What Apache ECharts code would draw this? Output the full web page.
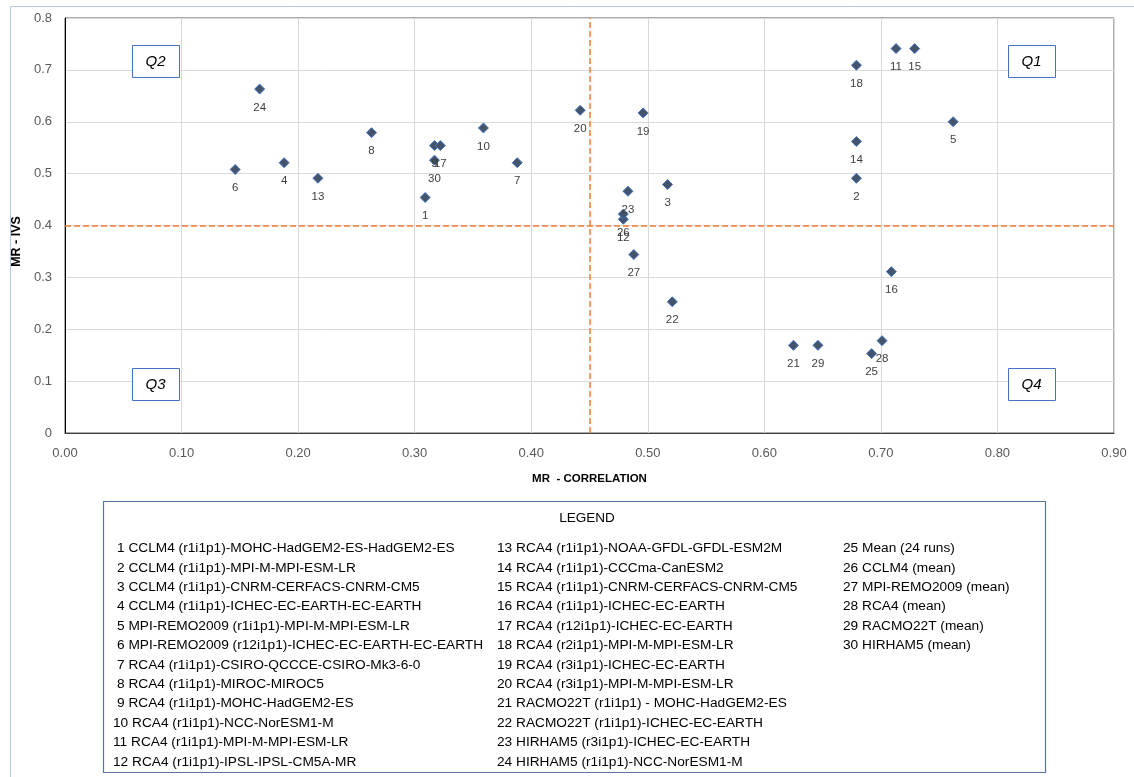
<!DOCTYPE html>
<html><head><meta charset="utf-8">
<script src="https://cdn.jsdelivr.net/npm/echarts@6/dist/echarts.min.js"></script>
<style>html,body{margin:0;padding:0;background:#fff}#c{width:1134px;height:777px}</style>
</head><body><div id="c"></div>
<script>
// ---- data ----
const pointIds = [1,2,3,4,5,6,7,8,9,10,11,12,13,14,15,16,17,18,19,20,21,22,23,24,25,26,27,28,29,30];
const corrValues = [0.309,0.679,0.517,0.188,0.762,0.146,0.388,0.263,0.317,0.359,0.713,0.479,0.217,0.679,0.729,0.709,0.322,0.679,0.496,0.442,0.625,0.521,0.483,0.167,0.692,0.479,0.488,0.701,0.646,0.317];
const ivsValues  = [0.454,0.491,0.479,0.521,0.600,0.508,0.521,0.579,0.554,0.588,0.741,0.412,0.491,0.562,0.741,0.311,0.554,0.709,0.617,0.622,0.169,0.253,0.466,0.663,0.153,0.422,0.344,0.178,0.169,0.526];
const legendNames = [
  "CCLM4 (r1i1p1)-MOHC-HadGEM2-ES-HadGEM2-ES",
  "CCLM4 (r1i1p1)-MPI-M-MPI-ESM-LR",
  "CCLM4 (r1i1p1)-CNRM-CERFACS-CNRM-CM5",
  "CCLM4 (r1i1p1)-ICHEC-EC-EARTH-EC-EARTH",
  "MPI-REMO2009 (r1i1p1)-MPI-M-MPI-ESM-LR",
  "MPI-REMO2009 (r12i1p1)-ICHEC-EC-EARTH-EC-EARTH",
  "RCA4 (r1i1p1)-CSIRO-QCCCE-CSIRO-Mk3-6-0",
  "RCA4 (r1i1p1)-MIROC-MIROC5",
  "RCA4 (r1i1p1)-MOHC-HadGEM2-ES",
  "RCA4 (r1i1p1)-NCC-NorESM1-M",
  "RCA4 (r1i1p1)-MPI-M-MPI-ESM-LR",
  "RCA4 (r1i1p1)-IPSL-IPSL-CM5A-MR",
  "RCA4 (r1i1p1)-NOAA-GFDL-GFDL-ESM2M",
  "RCA4 (r1i1p1)-CCCma-CanESM2",
  "RCA4 (r1i1p1)-CNRM-CERFACS-CNRM-CM5",
  "RCA4 (r1i1p1)-ICHEC-EC-EARTH",
  "RCA4 (r12i1p1)-ICHEC-EC-EARTH",
  "RCA4 (r2i1p1)-MPI-M-MPI-ESM-LR",
  "RCA4 (r3i1p1)-ICHEC-EC-EARTH",
  "RCA4 (r3i1p1)-MPI-M-MPI-ESM-LR",
  "RACMO22T (r1i1p1) - MOHC-HadGEM2-ES",
  "RACMO22T (r1i1p1)-ICHEC-EC-EARTH",
  "HIRHAM5 (r3i1p1)-ICHEC-EC-EARTH",
  "HIRHAM5 (r1i1p1)-NCC-NorESM1-M",
  "Mean (24 runs)",
  "CCLM4 (mean)",
  "MPI-REMO2009 (mean)",
  "RCA4 (mean)",
  "RACMO22T (mean)",
  "HIRHAM5 (mean)"
];
const thresholdCorr = 0.45;
const thresholdIvs = 0.4;
const quadrantLabels = ["Q1","Q2","Q3","Q4"];
const xAxisTitle = "MR  - CORRELATION";
const yAxisTitle = "MR - IVS";
const legendTitle = "LEGEND";

// ---- build chart ----
const chart = echarts.init(document.getElementById('c'));
const pts = pointIds.map((id,i)=>[corrValues[i], ivsValues[i], id]);
const FONT = "'Liberation Sans', Arial, sans-serif";
const ORANGE = '#ed7d31';

const graphics = [];
// outer chart frame
graphics.push({type:'rect', shape:{x:10.5,y:6.5,width:1130,height:790}, style:{fill:'none',stroke:'#b4c7e7',lineWidth:1}, z:-10, silent:true});
// quadrant boxes
const qPos = {Q1:[1008,45], Q2:[132,45], Q3:[132,368], Q4:[1008,368]};
quadrantLabels.forEach(q=>{
  const p = qPos[q];
  graphics.push({type:'rect', shape:{x:p[0]+0.5,y:p[1]+0.5,width:47,height:32}, style:{fill:'#fff',stroke:'#4472c4',lineWidth:1}, z:50});
  graphics.push({type:'text', x:p[0]+23.5, y:p[1]+16.5, style:{text:q, font:"italic 15px "+FONT, fill:'#000', align:'center', verticalAlign:'middle'}, z:51});
});
// legend box
graphics.push({type:'rect', shape:{x:103.5,y:501.5,width:942,height:271}, style:{fill:'#fff',stroke:'#5a74a8',lineWidth:1.2}, z:5});
graphics.push({type:'text', x:587, y:518, style:{text:legendTitle, font:"13.5px "+FONT, fill:'#000', align:'center', verticalAlign:'middle'}, z:6});
const colX = [113, 497, 843];
legendNames.forEach((n,i)=>{
  const col = Math.floor(i/12), row = i%12;
  const indent = (col===0 && pointIds[i] < 10) ? 4 : 0;
  graphics.push({type:'text', x:colX[col]+indent, y:548.5 + row*19.4, style:{text:pointIds[i]+' '+n, font:"13.7px "+FONT, fill:'#000', align:'left', verticalAlign:'middle'}, z:6});
});

chart.setOption({
  animation:false,
  grid:{left:65, right:20, top:18, bottom:344, show:true, borderColor:'#595959', borderWidth:1, containLabel:false},
  xAxis:{type:'value', min:0, max:0.9, interval:0.1,
    name:xAxisTitle, nameLocation:'middle', nameGap:40,
    nameTextStyle:{fontFamily:FONT, fontWeight:'bold', fontSize:11.5, color:'#000'},
    axisLine:{show:true, onZero:false, lineStyle:{color:'#404040'}}, axisTick:{show:false},
    axisLabel:{margin:14, fontFamily:FONT, fontSize:13, color:'#595959', formatter:v=>v.toFixed(2)},
    splitLine:{show:true, lineStyle:{color:'#d9d9d9', width:1}}},
  yAxis:{type:'value', min:0, max:0.8, interval:0.1,
    name:yAxisTitle, nameLocation:'middle', nameGap:40, nameRotate:90,
    nameTextStyle:{fontFamily:FONT, fontWeight:'bold', fontSize:12.5, color:'#000', padding:[0,32,0,0]},
    axisLine:{show:true, onZero:false, lineStyle:{color:'#000'}}, axisTick:{show:false},
    axisLabel:{margin:13, fontFamily:FONT, fontSize:13, color:'#595959', formatter:v=> v===0?'0':v.toFixed(1)},
    splitLine:{show:true, lineStyle:{color:'#d9d9d9', width:1}}},
  series:[
    {type:'scatter', data:[], z:2, silent:true, itemStyle:{color:ORANGE},
      markLine:{silent:true, symbol:['none','none'], label:{show:false},
        lineStyle:{color:ORANGE, type:[6,3], width:1.5, opacity:1},
        emphasis:{disabled:true},
        data:[
          {xAxis:thresholdCorr, lineStyle:{color:ORANGE, type:[6,3], width:1.5}},
          {yAxis:thresholdIvs, lineStyle:{color:ORANGE, type:[6,3], width:1.5}}
        ]}},
    {type:'scatter', data:pts, z:3,
      symbol:'path://M0,-1L1,0L0,1L-1,0Z', symbolSize:[10,10],
      itemStyle:{color:'#44546a', borderColor:'#4472c4', borderWidth:1, opacity:1},
      label:{show:true, position:'bottom', distance:7, formatter:p=>String(p.value[2]),
        fontFamily:FONT, fontSize:11.5, color:'#404040'},
      labelLayout:{hideOverlap:false}}
  ],
  graphic:graphics
});
</script></body></html>
